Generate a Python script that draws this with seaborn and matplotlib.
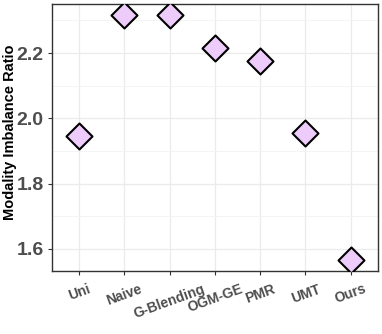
import pandas as pd
import seaborn as sns
import matplotlib.pyplot as plt
from matplotlib.ticker import MultipleLocator

# Data
methods = ["Uni", "Naive", "G-Blending", "OGM-GE", "PMR", "UMT", "Ours"]
ratios = [1.946, 2.316, 2.316, 2.214, 2.175, 1.955, 1.565]

df = pd.DataFrame({"method": methods, "ratio": ratios})

sns.set_style("white")
plt.rcParams['font.family'] = ['Liberation Sans', 'DejaVu Sans']

fig = plt.figure(figsize=(3.82, 3.34), dpi=100)
ax = fig.add_axes([0.136, 0.189, 0.853, 0.799])

sns.scatterplot(data=df, x="method", y="ratio", marker="D", s=175,
                color="#EDCCFB", edgecolor="black", linewidth=1.5,
                zorder=3, ax=ax)

ax.set_xlim(-0.6, 6.6)
ax.set_ylim(1.533, 2.35)
ax.yaxis.set_major_locator(MultipleLocator(0.2))
ax.yaxis.set_minor_locator(MultipleLocator(0.1))
ax.grid(True, which="major", color="#EBEBEB", linewidth=0.9, zorder=0)
ax.grid(True, which="minor", axis="y", color="#F3F3F3", linewidth=0.6, zorder=0)
ax.set_axisbelow(True)

for sp in ax.spines.values():
    sp.set_visible(True)
    sp.set_color("#333333")
    sp.set_linewidth(1.0)

ax.tick_params(axis="both", which="major", length=3, width=0.8, color="#333333",
               labelcolor="#4D4D4D", bottom=True, left=True)
ax.tick_params(axis="y", which="minor", length=0)
ax.tick_params(axis="y", labelsize=14, pad=3)
ax.tick_params(axis="x", labelsize=10, pad=5)
for lab in ax.get_yticklabels():
    lab.set_fontweight("bold")
for lab in ax.get_xticklabels():
    lab.set_fontweight("bold")
    lab.set_rotation(20)
    lab.set_ha("center")

ax.set_xlabel("")
ax.set_ylabel("Modality Imbalance Ratio", fontsize=10.5, fontweight="bold",
              color="black", va="center")
ax.yaxis.set_label_coords(-0.128, 0.519)

fig.savefig("out.png", dpi=100)
